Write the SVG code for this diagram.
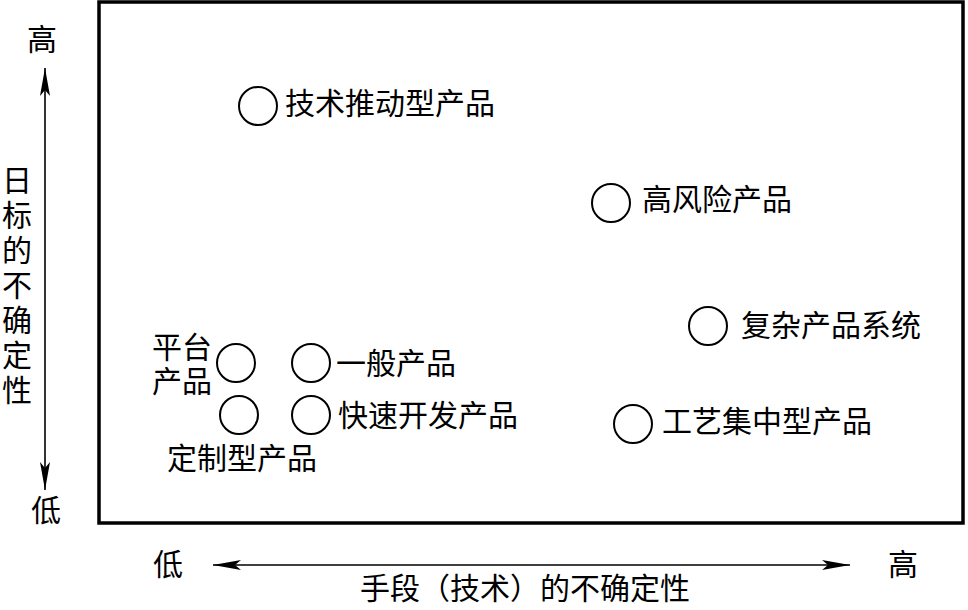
<svg xmlns="http://www.w3.org/2000/svg" width="968" height="610" viewBox="0 0 968 610">
<defs>
<style>
text{font-family:"Noto Sans CJK SC","Noto Sans",sans-serif;font-size:30px;fill:#000}
.c{fill:none;stroke:#000;stroke-width:2}
.ax{stroke:#000;stroke-width:1.6;fill:none}
.m{text-anchor:middle}
</style>
<marker id="ah" viewBox="0 0 28 10" refX="28" refY="5" markerWidth="28" markerHeight="10" markerUnits="userSpaceOnUse" orient="auto-start-reverse">
<path d="M0,0 L28,5 L0,10 L6,5 Z" fill="#000"/>
</marker>
</defs>
<rect x="99" y="2" width="864" height="521" fill="none" stroke="#000" stroke-width="3.5"/>
<g id="axes">
<line class="ax" x1="45" y1="68" x2="45" y2="490" marker-start="url(#ah)" marker-end="url(#ah)"/>
<line class="ax" x1="213" y1="565" x2="850" y2="565" marker-start="url(#ah)" marker-end="url(#ah)"/>
<text class="m" x="42" y="50">高</text>
<text class="m" x="46" y="521">低</text>
<text class="m" x="168" y="575">低</text>
<text class="m" x="903" y="575">高</text>
<text class="m" x="525" y="599">手段（技术）的不确定性</text>
<text x="17" y="165" style="writing-mode:vertical-rl;letter-spacing:5px">日标的不确定性</text>
</g>
<g id="n1"><circle class="c" cx="258" cy="106" r="19"/><text x="285" y="114">技术推动型产品</text></g>
<g id="n2"><circle class="c" cx="611" cy="203" r="19"/><text x="642" y="210">高风险产品</text></g>
<g id="n3"><circle class="c" cx="708" cy="326" r="19"/><text x="741" y="336">复杂产品系统</text></g>
<g id="n4"><circle class="c" cx="633" cy="424" r="19"/><text x="662" y="432">工艺集中型产品</text></g>
<g id="n5"><circle class="c" cx="236" cy="363" r="19"/><text x="152" y="358">平台<tspan x="152" dy="34">产品</tspan></text></g>
<g id="n6"><circle class="c" cx="311" cy="363" r="19"/><text x="336" y="374">一般产品</text></g>
<g id="n7"><circle class="c" cx="239" cy="415" r="19"/><text x="167" y="469">定制型产品</text></g>
<g id="n8"><circle class="c" cx="311" cy="415" r="19"/><text x="338" y="426">快速开发产品</text></g>
<g id="connectors"></g>
</svg>
